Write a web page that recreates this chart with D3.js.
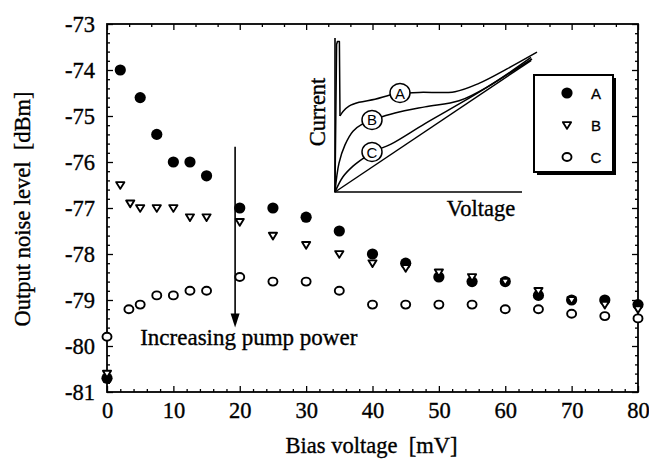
<!DOCTYPE html>
<html>
<head>
<meta charset="utf-8">
<script src="https://cdn.jsdelivr.net/npm/d3@7"></script>
<style>
  body { margin: 0; background: #fff; }
  svg { display: block; }
  svg text { white-space: pre; }
</style>
</head>
<body>
<svg id="chart" width="649" height="471"></svg>
<script>
// ---- Output noise level vs. bias voltage, three pump levels ----
const biasA  = [0, 2, 5, 7.5, 10, 12.5, 15, 20, 25, 30, 35, 40, 45, 50, 55, 60, 65, 70, 75, 80];
const noiseA = [-80.7, -74.0, -74.6, -75.4, -76.0, -76.0, -76.3, -77.0, -77.0, -77.2, -77.5, -78.0, -78.2, -78.5, -78.6, -78.6, -78.9, -79.0, -79.0, -79.1];

const biasB  = [0, 2, 3.5, 5, 7.5, 10, 12.5, 15, 20, 25, 30, 35, 40, 45, 50, 55, 60, 65, 70, 75, 80];
const noiseB = [-80.6, -76.5, -76.9, -77.0, -77.0, -77.0, -77.2, -77.2, -77.3, -77.6, -77.8, -78.0, -78.2, -78.3, -78.4, -78.5, -78.6, -78.8, -79.0, -79.1, -79.2];

const biasC  = [0, 3.3, 5, 7.5, 10, 12.5, 15, 20, 25, 30, 35, 40, 45, 50, 55, 60, 65, 70, 75, 80];
const noiseC = [-79.8, -79.2, -79.1, -78.9, -78.9, -78.8, -78.8, -78.5, -78.6, -78.6, -78.8, -79.1, -79.1, -79.1, -79.1, -79.2, -79.2, -79.3, -79.35, -79.4];

const xTickValues = [0, 10, 20, 30, 40, 50, 60, 70, 80];
const yTickValues = [-81, -80, -79, -78, -77, -76, -75, -74, -73];
const seriesNames = ["A", "B", "C"];

// Pump-power arrow and its caption (data coordinates)
const arrowBias = 19.3, arrowFrom = -75.67, arrowTo = -79.6;
const captionBias = 5, captionNoise = -79.98;
const captionText = "Increasing pump power";

// ---- Inset: schematic I-V curves (normalised voltage, current) ----
const ivUnpumped = [[0, 0], [0.98, 0.865]];
const ivSpikeA = [[0, 0], [0.008, 0.97], [0.012, 0.99], [0.022, 0.99], [0.025, 0.5]];
const ivCurveA = [[0.025, 0.5], [0.04, 0.53], [0.07, 0.565], [0.12, 0.59], [0.2, 0.61], [0.3, 0.645], [0.42, 0.655], [0.6, 0.66], [0.72, 0.715], [0.86, 0.81], [1.01, 0.92]];
const ivCurveB = [[0, 0], [0.02, 0.19], [0.05, 0.31], [0.09, 0.4], [0.14, 0.45], [0.2, 0.48], [0.3, 0.52], [0.45, 0.56], [0.62, 0.6], [0.76, 0.69], [0.98, 0.885]];
const ivCurveC = [[0, 0], [0.04, 0.1], [0.09, 0.17], [0.14, 0.22], [0.2, 0.27], [0.28, 0.315], [0.45, 0.45], [0.7, 0.64], [0.985, 0.875]];
const ivLabels = [[0.325, 0.651, "A"], [0.185, 0.474, "B"], [0.185, 0.263, "C"]];

const serif = "'Liberation Serif', 'Times New Roman', serif";
const sans = "'Liberation Sans', Arial, sans-serif";

const svg = d3.select("#chart");

const x = d3.scaleLinear().domain([0, 80]).range([107, 638]);
const y = d3.scaleLinear().domain([-81, -73]).range([392, 24]);

const x0 = x.range()[0], x1 = x.range()[1];
const y0 = y.range()[0], y1 = y.range()[1];

// serif text with a hairline outline for a slightly heavier print look
function serifText(sel, size) {
  return sel.attr("font-family", serif).attr("font-size", size).attr("fill", "#000")
    .attr("stroke", "#000").attr("stroke-width", 0.35);
}

function styleAxis(g, withText) {
  g.select(".domain").remove();
  g.selectAll("line").attr("stroke", "#000").attr("stroke-width", 1.3);
  if (withText) {
    g.selectAll("text").call(serifText, 22.5);
  } else {
    g.selectAll("text").remove();
  }
}

const minorX2 = d3.range(0, 81, 2).filter(v => v % 10 !== 0);
const minorXTop = d3.range(0, 80.01, 10 / 3).map(v => +v.toFixed(4)).filter(v => Math.abs(v / 10 - Math.round(v / 10)) > 1e-6);
const minorY = d3.range(-81, -72.99, 0.2).map(v => +v.toFixed(1)).filter(v => Math.abs(v - Math.round(v)) > 1e-6);

// bottom
svg.append("g").attr("transform", `translate(0,${y0})`)
  .call(d3.axisBottom(x).tickValues(xTickValues).tickSize(-6).tickPadding(10).tickFormat(d => String(d)))
  .call(g => styleAxis(g, true));
svg.append("g").attr("transform", `translate(0,${y0})`)
  .call(d3.axisBottom(x).tickValues(minorX2).tickSize(-3).tickFormat(""))
  .call(g => styleAxis(g, false));
// top
svg.append("g").attr("transform", `translate(0,${y1})`)
  .call(d3.axisTop(x).tickValues(xTickValues).tickSize(-6).tickFormat(""))
  .call(g => styleAxis(g, false));
svg.append("g").attr("transform", `translate(0,${y1})`)
  .call(d3.axisTop(x).tickValues(minorXTop).tickSize(-3).tickFormat(""))
  .call(g => styleAxis(g, false));
// left
svg.append("g").attr("transform", `translate(${x0},0)`)
  .call(d3.axisLeft(y).tickValues(yTickValues).tickSize(-6).tickPadding(12).tickFormat(d => String(d)))
  .call(g => styleAxis(g, true));
svg.append("g").attr("transform", `translate(${x0},0)`)
  .call(d3.axisLeft(y).tickValues(minorY).tickSize(-3).tickFormat(""))
  .call(g => styleAxis(g, false));
// right
svg.append("g").attr("transform", `translate(${x1},0)`)
  .call(d3.axisRight(y).tickValues(yTickValues).tickSize(-6).tickFormat(""))
  .call(g => styleAxis(g, false));
svg.append("g").attr("transform", `translate(${x1},0)`)
  .call(d3.axisRight(y).tickValues(minorY).tickSize(-3).tickFormat(""))
  .call(g => styleAxis(g, false));

// frame
svg.append("rect")
  .attr("x", x0).attr("y", y1).attr("width", x1 - x0).attr("height", y0 - y1)
  .attr("fill", "none").attr("stroke", "#000").attr("stroke-width", 1.8);

// axis titles
svg.append("text")
  .attr("transform", `translate(30,${(y0 + y1) / 2 + 1}) rotate(-90)`)
  .attr("text-anchor", "middle").call(serifText, 22.5)
  .text("Output noise level  [dBm]");
svg.append("text")
  .attr("x", (x0 + x1) / 2 - 1).attr("y", 453)
  .attr("text-anchor", "middle").call(serifText, 22.5)
  .text("Bias voltage  [mV]");

// ---- inset ----
const ix = d3.scaleLinear().domain([0, 1]).range([335, 535]);
const iy = d3.scaleLinear().domain([0, 1]).range([192, 40]);
const inset = svg.append("g");

inset.append("path")
  .attr("d", d3.line()([[ix(0), iy(1.013)], [ix(0), iy(0)], [ix(0.935), iy(0)]]))
  .attr("fill", "none").attr("stroke", "#000").attr("stroke-width", 1.6);

const smooth = d3.line().x(d => ix(d[0])).y(d => iy(d[1])).curve(d3.curveCatmullRom.alpha(0.5));
const straight = d3.line().x(d => ix(d[0])).y(d => iy(d[1]));

[[ivUnpumped, straight], [ivSpikeA, straight], [ivCurveA, smooth], [ivCurveB, smooth], [ivCurveC, smooth]]
  .forEach(([pts, gen]) => {
    inset.append("path").attr("d", gen(pts))
      .attr("fill", "none").attr("stroke", "#000").attr("stroke-width", 1.5)
      .attr("stroke-linejoin", "round");
  });

const lab = inset.selectAll("g.ivlab").data(ivLabels).join("g")
  .attr("transform", d => `translate(${ix(d[0])},${iy(d[1])})`);
lab.append("ellipse").attr("rx", 10).attr("ry", 9.5)
  .attr("fill", "#fff").attr("stroke", "#000").attr("stroke-width", 1.5);
lab.append("text").attr("text-anchor", "middle").attr("y", 5.5)
  .attr("font-family", sans).attr("font-size", 15).text(d => d[2]);

inset.append("text")
  .attr("transform", `translate(325,112) rotate(-90)`)
  .attr("text-anchor", "middle").call(serifText, 22.5)
  .text("Current");
inset.append("text")
  .attr("x", 481).attr("y", 216)
  .attr("text-anchor", "middle").call(serifText, 22.5)
  .text("Voltage");

// ---- arrow + caption ----
const ax = x(arrowBias);
svg.append("line")
  .attr("x1", ax).attr("x2", ax).attr("y1", y(arrowFrom)).attr("y2", y(arrowTo) - 10)
  .attr("stroke", "#000").attr("stroke-width", 1.6);
svg.append("path")
  .attr("d", d3.line()([[ax - 4.5, y(arrowTo) - 14], [ax + 4.5, y(arrowTo) - 14], [ax, y(arrowTo)]]) + "Z")
  .attr("fill", "#000");
svg.append("text")
  .attr("x", x(captionBias)).attr("y", y(captionNoise))
  .call(serifText, 23)
  .text(captionText);

// ---- markers ----
// downward triangle, slightly wider than tall
const triangleDown = {
  draw(ctx, size) {
    const w = Math.sqrt(size) * 0.68;
    ctx.moveTo(-w, -w * 0.7);
    ctx.lineTo(w, -w * 0.7);
    ctx.lineTo(0, w * 0.95);
    ctx.closePath();
  }
};
const triDown = d3.symbol().type(triangleDown).size(36);

function drawA(sel) {
  sel.append("circle").attr("r", 5.6).attr("fill", "#000");
}
function drawB(sel) {
  sel.append("path").attr("d", triDown())
    .attr("fill", "#fff").attr("stroke", "#000").attr("stroke-width", 1.9).attr("stroke-linejoin", "round");
}
function drawC(sel) {
  sel.append("ellipse").attr("rx", 4.5).attr("ry", 4)
    .attr("fill", "#fff").attr("stroke", "#000").attr("stroke-width", 1.9);
}
const drawers = [drawA, drawB, drawC];

const series = [
  { xs: biasA, ys: noiseA },
  { xs: biasB, ys: noiseB },
  { xs: biasC, ys: noiseC }
];

series.forEach((s, i) => {
  const pts = s.xs.map((v, k) => [v, s.ys[k]]);
  svg.append("g").selectAll("g").data(pts).join("g")
    .attr("transform", d => `translate(${x(d[0])},${y(d[1])})`)
    .call(drawers[i]);
});

// ---- legend ----
const legX = 534, legY = 75, legW = 79, legH = 97;
const legend = svg.append("g");
legend.append("rect").attr("x", legX + 3).attr("y", legY + 3).attr("width", legW).attr("height", legH).attr("fill", "#000");
legend.append("rect").attr("x", legX).attr("y", legY).attr("width", legW).attr("height", legH)
  .attr("fill", "#fff").attr("stroke", "#000").attr("stroke-width", 2);
const legRows = [93, 125, 157];
seriesNames.forEach((name, i) => {
  const row = legend.append("g").attr("transform", `translate(567,${legRows[i]})`);
  drawers[i](row);
  legend.append("text").attr("x", 596).attr("y", legRows[i] + 5.5)
    .attr("text-anchor", "middle").attr("font-family", sans).attr("font-size", 15)
    .attr("stroke", "#000").attr("stroke-width", 0.3)
    .text(name);
});
</script>
</body>
</html>
